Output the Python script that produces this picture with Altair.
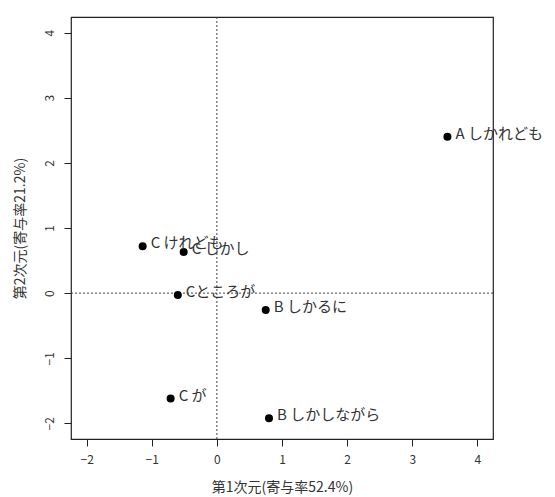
import altair as alt
import pandas as pd

labels = ["A しかれども", "C けれども", "C しかし", "Cところが", "B しかるに", "C が", "B しかしながら"]
dim1 = [3.54, -1.14, -0.51, -0.60, 0.75, -0.71, 0.80]
dim2 = [2.40, 0.72, 0.63, -0.03, -0.26, -1.62, -1.92]
ticks = [-2, -1, 0, 1, 2, 3, 4]

df = pd.DataFrame({"label": labels, "x": dim1, "y": dim2})
FONT = "Noto Sans CJK JP"
xs = alt.Scale(domain=[-2.24, 4.24], nice=False, zero=False)
ys = alt.Scale(domain=[-2.24, 4.24], nice=False, zero=False)

base = alt.Chart(df)

pts = base.mark_circle(size=64, color="black", opacity=1).encode(
    x=alt.X("x:Q", scale=xs, title="第1次元(寄与率52.4%)",
            axis=alt.Axis(values=ticks, format="d", grid=False, domain=False, tickSize=7,
                          tickColor="#222", labelPadding=8, labelFontSize=12,
                          labelColor="#333", titleFontSize=14, titleFontWeight="normal",
                          titleColor="#333", titlePadding=15, labelFont=FONT, titleFont=FONT)),
    y=alt.Y("y:Q", scale=ys, title="第2次元(寄与率21.2%)",
            axis=alt.Axis(values=ticks, format="d", grid=False, domain=False, tickSize=7,
                          tickColor="#222", labelPadding=8, labelFontSize=12,
                          labelAngle=270, labelAlign="center", labelBaseline="bottom",
                          labelColor="#333", titleFontSize=14, titleFontWeight="normal",
                          titleColor="#333", titlePadding=16, labelFont=FONT, titleFont=FONT)),
)

txt = base.mark_text(align="left", baseline="middle", dx=8, dy=-3, fontSize=15,
                     font=FONT, color="#333").encode(
    x=alt.X("x:Q", scale=xs), y=alt.Y("y:Q", scale=ys), text="label:N")

zero_df = pd.DataFrame({"z": [0]})
vline = alt.Chart(zero_df).mark_rule(color="#444", strokeDash=[2, 2], strokeWidth=1).encode(
    x=alt.X("z:Q", scale=xs))
hline = alt.Chart(zero_df).mark_rule(color="#444", strokeDash=[2, 2], strokeWidth=1).encode(
    y=alt.Y("z:Q", scale=ys))

chart = alt.layer(vline, hline, pts, txt).properties(
    width=422, height=422,
    autosize=alt.AutoSizeParams(type="none"),
    padding={"left": 63, "top": 9, "right": 52, "bottom": 57},
    background="white",
).configure_view(stroke="#222", strokeWidth=1.2)

chart.save("out.html", embed_options={"renderer": "svg", "actions": False})
